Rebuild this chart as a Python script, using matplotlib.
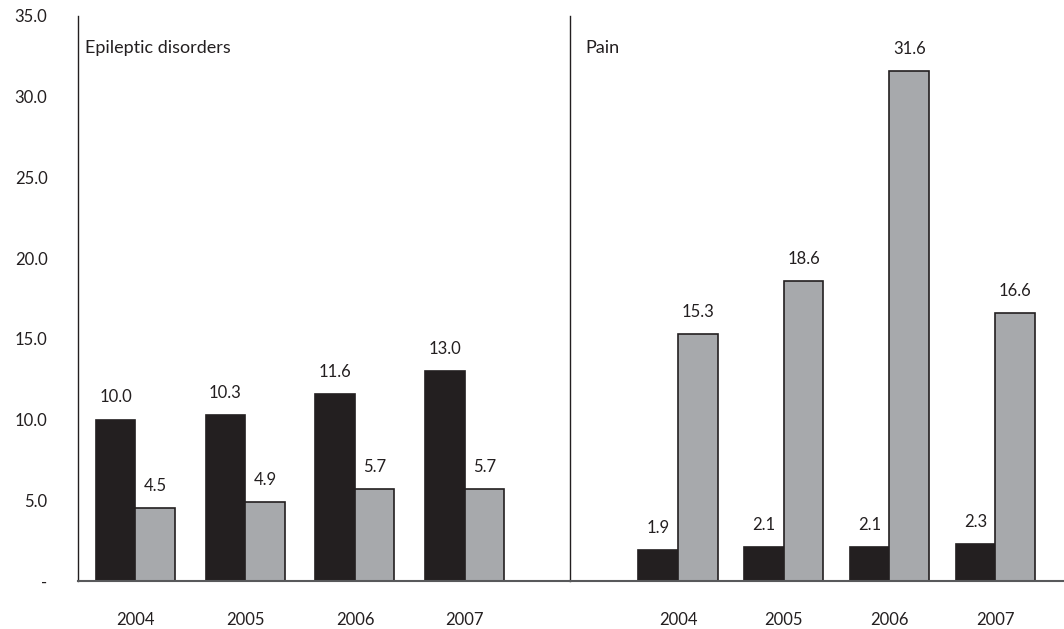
import matplotlib
matplotlib.use("Agg")
import matplotlib.pyplot as plt
import numpy as np

plt.rcParams['font.family'] = ['Lato', 'DejaVu Sans']

years = ["2004", "2005", "2006", "2007"]
panels = ["Epileptic disorders", "Pain"]
epi_black = [10.0, 10.3, 11.6, 13.0]
epi_grey = [4.5, 4.9, 5.7, 5.7]
pain_black = [1.9, 2.1, 2.1, 2.3]
pain_grey = [15.3, 18.6, 31.6, 16.6]
yticks = [0, 5, 10, 15, 20, 25, 30, 35]
ytick_labels = ["-", "5.0", "10.0", "15.0", "20.0", "25.0", "30.0", "35.0"]

black_c = "#231f20"
grey_c = "#a7a9ac"
W, H = 1064, 629
top_px, bot_px = 16, 581

fig = plt.figure(figsize=(W/100, H/100), dpi=100)
ax1 = fig.add_axes([78/W, 1-bot_px/H, (570-78)/W, (bot_px-top_px)/H])
ax2 = fig.add_axes([570/W, 1-bot_px/H, (W-570)/W, (bot_px-top_px)/H])

configs = [
    (ax1, epi_black, epi_grey, panels[0], (-0.524, 3.96), 0.36),
    (ax2, pain_black, pain_grey, panels[1], (-1.022, 3.652), 0.374),
]

for ax, bv, gv, title, xl, w in configs:
    pos = np.arange(len(years))
    ax.bar(pos - w/2, bv, w, color=black_c, edgecolor=black_c, linewidth=1.2, zorder=2)
    ax.bar(pos + w/2, gv, w, color=grey_c, edgecolor=black_c, linewidth=1.2, zorder=2)
    for p, v in zip(pos, bv):
        ax.annotate(f"{v:.1f}", (p - w/2, v), xytext=(0, 16), textcoords="offset points",
                    ha="center", va="center", fontsize=12, color=black_c)
    for p, v in zip(pos, gv):
        ax.annotate(f"{v:.1f}", (p + w/2, v), xytext=(0, 16), textcoords="offset points",
                    ha="center", va="center", fontsize=12, color=black_c)
    ax.set_xlim(*xl)
    ax.set_ylim(0, 35)
    ax.set_xticks(pos)
    ax.set_xticklabels(years, fontsize=12, color=black_c)
    ax.tick_params(axis="x", length=0, pad=22)
    ax.spines["top"].set_visible(False)
    ax.spines["right"].set_visible(False)
    ax.spines["left"].set_color(black_c)
    ax.spines["left"].set_linewidth(1.0)
    ax.spines["bottom"].set_color("#58595b")
    ax.spines["bottom"].set_linewidth(1.5)
    ax.text(7/(570-78), 1-(48-top_px)/(bot_px-top_px), title, transform=ax.transAxes,
            fontsize=13, va="center", ha="left", color=black_c)

ax1.set_yticks(yticks)
ax1.set_yticklabels(ytick_labels, fontsize=12, color=black_c)
ax1.tick_params(axis="y", length=0, pad=22)
ax2.set_yticks([])
ax2.texts[-1].set_x(15/(W-570))

fig.savefig("out.png", dpi=100)
